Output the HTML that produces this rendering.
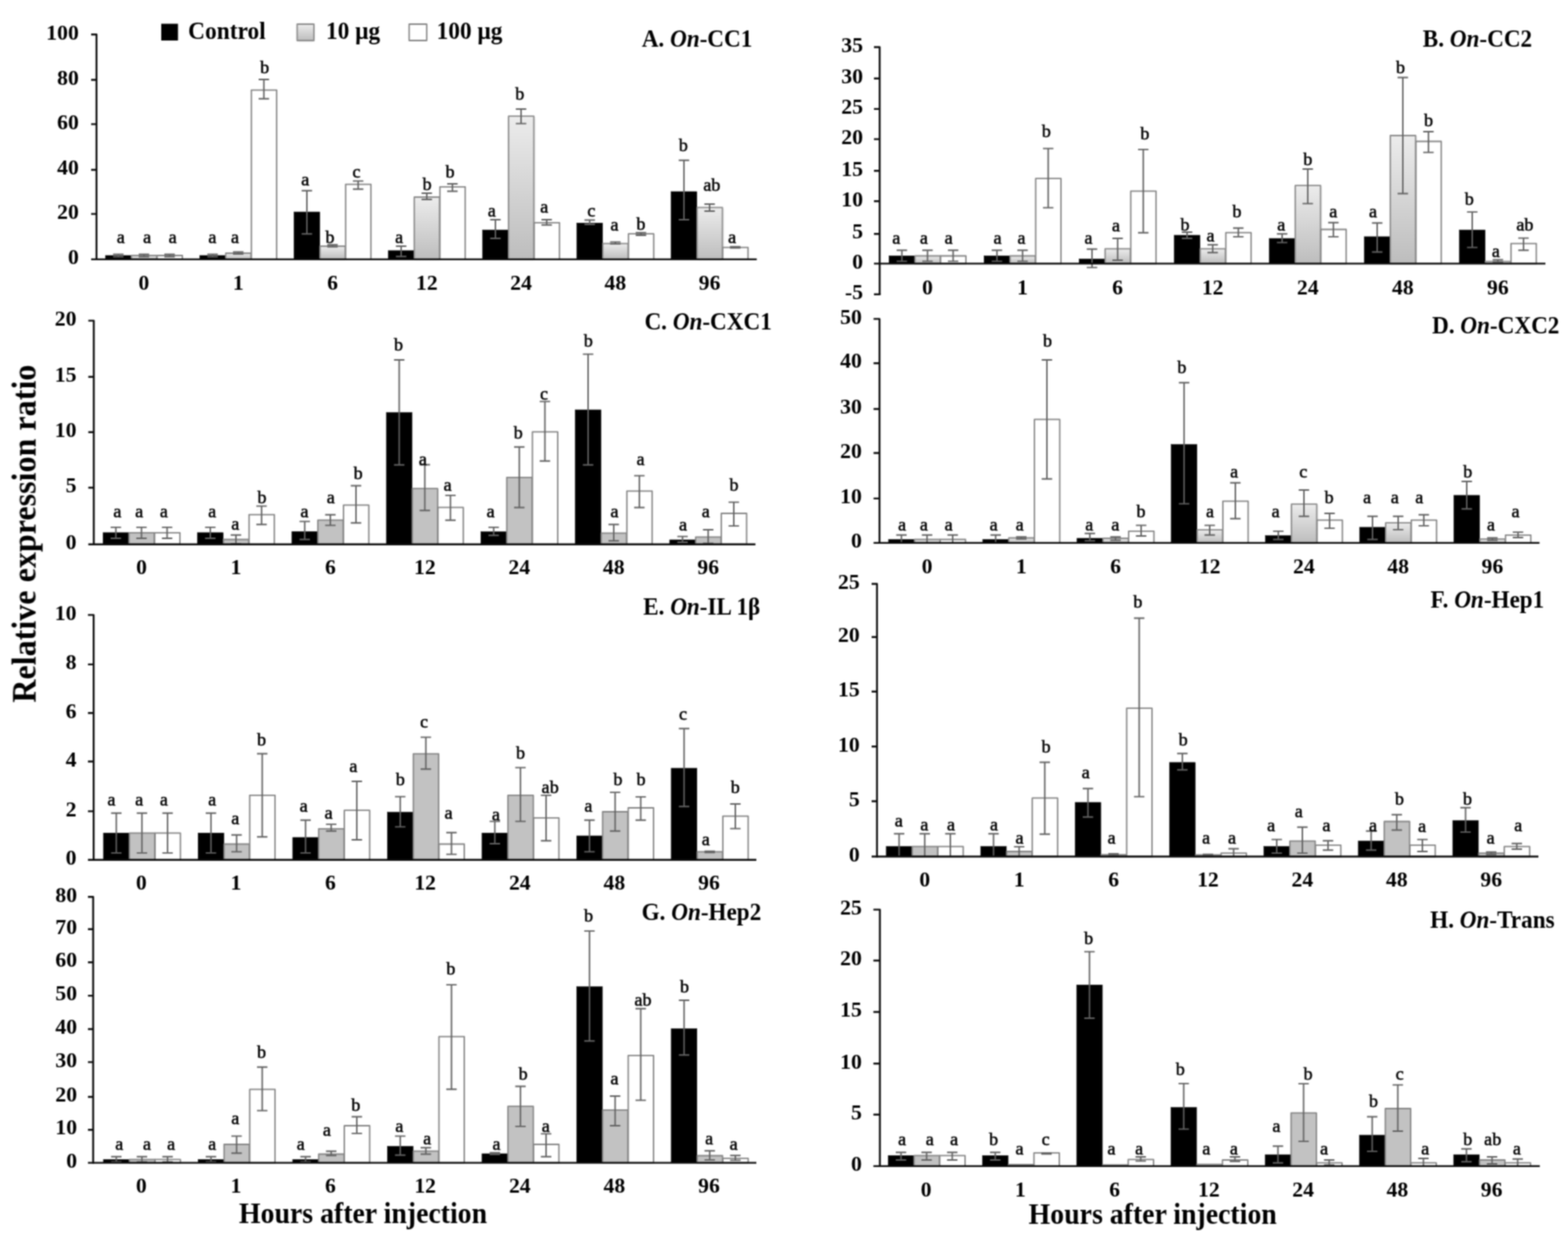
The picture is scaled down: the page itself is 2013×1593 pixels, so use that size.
<!DOCTYPE html>
<html lang="en"><head><meta charset="utf-8"><title>Relative expression ratio</title>
<style>
html,body{margin:0;padding:0;background:#fff;}
body{width:2013px;height:1593px;overflow:hidden;}
svg{display:block;font-family:"Liberation Serif", "DejaVu Serif", serif;}
.tk{font-weight:bold;font-size:28px;text-anchor:end;}
.xl{font-weight:bold;font-size:27.8px;text-anchor:middle;}
.lt{font-size:23.2px;text-anchor:middle;stroke:#000;stroke-width:0.6px;}
.tt{font-weight:bold;font-size:29.5px;}
.ax{stroke:#0a0a0a;fill:none;stroke-linecap:butt;stroke-linejoin:round;}
.eb{stroke:#626262;stroke-width:1.9;fill:none;}
.bk{fill:#000;stroke:#000;stroke-width:0.6;}
.gf{fill:#c2c2c2;stroke:#858585;stroke-width:1.8;stroke-linejoin:round;}
.gg{fill:url(#gg);stroke:#8c8c8c;stroke-width:1.8;stroke-linejoin:round;}
.wh{fill:#fff;stroke:#858585;stroke-width:1.8;stroke-linejoin:round;}
</style></head><body>
<svg width="2013" height="1593" viewBox="0 0 2013 1593" role="img" aria-label="Relative expression ratio bar charts">
<defs><linearGradient id="gg" x1="0" y1="0" x2="0" y2="1" gradientUnits="objectBoundingBox"><stop offset="0" stop-color="#ececec"/><stop offset="1" stop-color="#bdbdbd"/></linearGradient>
<filter id="sh" x="-30%" y="-10%" width="160%" height="120%"><feGaussianBlur stdDeviation="1.6"/></filter>
<filter id="soft" filterUnits="userSpaceOnUse" x="0" y="0" width="2013" height="1593" color-interpolation-filters="sRGB"><feConvolveMatrix order="5" kernelMatrix="0.00087 0.00695 0.01388 0.00695 0.00087 0.00695 0.05540 0.11068 0.05540 0.00695 0.01388 0.11068 0.22111 0.11068 0.01388 0.00695 0.05540 0.11068 0.05540 0.00695 0.00087 0.00695 0.01388 0.00695 0.00087" edgeMode="duplicate" preserveAlpha="false"/></filter>
</defs>
<rect width="2013" height="1593" fill="#fff"/>
<g id="fig" filter="url(#soft)">
<g id="panel-A">
<rect class="bk" x="135.46" y="328" width="32.9" height="4.9"/>
<rect x="168.86" y="329" width="32.9" height="3.9" fill="#000" opacity="0.22" filter="url(#sh)"/>
<rect class="gg" x="168.76" y="328" width="32.5" height="4.9"/>
<rect class="wh" x="201.66" y="328" width="32.5" height="4.9"/>
<rect class="bk" x="256.49" y="328" width="32.9" height="4.9"/>
<rect x="289.89" y="326" width="32.9" height="6.9" fill="#000" opacity="0.22" filter="url(#sh)"/>
<rect class="gg" x="289.79" y="325" width="32.5" height="7.9"/>
<rect class="wh" x="322.69" y="115.6" width="32.5" height="217.3"/>
<rect class="bk" x="377.52" y="272.1" width="32.9" height="60.8"/>
<rect x="410.92" y="317" width="32.9" height="15.9" fill="#000" opacity="0.22" filter="url(#sh)"/>
<rect class="gg" x="410.82" y="316" width="32.5" height="16.9"/>
<rect class="wh" x="443.72" y="236.6" width="32.5" height="96.3"/>
<rect class="bk" x="498.55" y="321.8" width="32.9" height="11.1"/>
<rect x="531.95" y="254" width="32.9" height="78.9" fill="#000" opacity="0.22" filter="url(#sh)"/>
<rect class="gg" x="531.85" y="253" width="32.5" height="79.9"/>
<rect class="wh" x="564.75" y="239.8" width="32.5" height="93.1"/>
<rect class="bk" x="619.58" y="295.2" width="32.9" height="37.7"/>
<rect x="652.98" y="150.2" width="32.9" height="182.7" fill="#000" opacity="0.22" filter="url(#sh)"/>
<rect class="gg" x="652.88" y="149.2" width="32.5" height="183.7"/>
<rect class="wh" x="685.78" y="285.8" width="32.5" height="47.1"/>
<rect class="bk" x="740.61" y="286.3" width="32.9" height="46.6"/>
<rect x="774.01" y="313.6" width="32.9" height="19.3" fill="#000" opacity="0.22" filter="url(#sh)"/>
<rect class="gg" x="773.91" y="312.6" width="32.5" height="20.3"/>
<rect class="wh" x="806.81" y="300.2" width="32.5" height="32.7"/>
<rect class="bk" x="861.64" y="246" width="32.9" height="86.9"/>
<rect x="895.04" y="267.4" width="32.9" height="65.5" fill="#000" opacity="0.22" filter="url(#sh)"/>
<rect class="gg" x="894.94" y="266.4" width="32.5" height="66.5"/>
<rect class="wh" x="927.84" y="317.6" width="32.5" height="15.3"/>
<path class="eb" d="M145.21 326.5H158.61M151.91 326.5V329.5M145.21 329.5H158.61"/>
<path class="eb" d="M178.11 326.5H191.51M184.81 326.5V329.5M178.11 329.5H191.51"/>
<path class="eb" d="M211.01 326.5H224.41M217.71 326.5V329.5M211.01 329.5H224.41"/>
<path class="eb" d="M266.24 326.5H279.64M272.94 326.5V329.5M266.24 329.5H279.64"/>
<path class="eb" d="M299.14 323.5H312.54M305.84 323.5V326M299.14 326H312.54"/>
<path class="eb" d="M332.04 102H345.44M338.74 102V126.8M332.04 126.8H345.44"/>
<path class="eb" d="M387.27 244.8H400.67M393.97 244.8V300.2M387.27 300.2H400.67"/>
<path class="eb" d="M420.17 314.3H433.57M426.87 314.3V316.8M420.17 316.8H433.57"/>
<path class="eb" d="M453.07 232.4H466.47M459.77 232.4V242.8M453.07 242.8H466.47"/>
<path class="eb" d="M508.3 316H521.7M515 316V329.2M508.3 329.2H521.7"/>
<path class="eb" d="M541.2 248H554.6M547.9 248V256M541.2 256H554.6"/>
<path class="eb" d="M574.1 236H587.5M580.8 236V245.5M574.1 245.5H587.5"/>
<path class="eb" d="M629.33 282H642.73M636.03 282V306M629.33 306H642.73"/>
<path class="eb" d="M662.23 140H675.63M668.93 140V158.6M662.23 158.6H675.63"/>
<path class="eb" d="M695.13 282H708.53M701.83 282V288.7M695.13 288.7H708.53"/>
<path class="eb" d="M750.36 282.5H763.76M757.06 282.5V288M750.36 288H763.76"/>
<path class="eb" d="M783.26 310.6H796.66M789.96 310.6V313.1M783.26 313.1H796.66"/>
<path class="eb" d="M816.16 298.7H829.56M822.86 298.7V302M816.16 302H829.56"/>
<path class="eb" d="M871.39 205.8H884.79M878.09 205.8V282M871.39 282H884.79"/>
<path class="eb" d="M904.29 262H917.69M910.99 262V271M904.29 271H917.69"/>
<path class="eb" d="M937.19 316.8H950.59M943.89 316.8V318.4M937.19 318.4H950.59"/>
<g stroke-width="2.4">
<path class="ax" d="M117 44.3H123.9V334.1"/>
<path class="ax" d="M117 332.9H971.5"/>
<path class="ax" d="M117 274.6H123.9M117 218H123.9M117 159.4H123.9M117 102.5H123.9"/>
</g>
<text class="tk" x="101.3" y="339.1">0</text>
<text class="tk" x="101.3" y="280.8">20</text>
<text class="tk" x="101.3" y="224.2">40</text>
<text class="tk" x="101.3" y="165.6">60</text>
<text class="tk" x="101.3" y="108.7">80</text>
<text class="tk" x="101.3" y="50.5">100</text>
<text class="xl" x="184.81" y="371.5">0</text>
<text class="xl" x="305.84" y="371.5">1</text>
<text class="xl" x="426.87" y="371.5">6</text>
<text class="xl" x="547.9" y="371.5">12</text>
<text class="xl" x="668.93" y="371.5">24</text>
<text class="xl" x="789.96" y="371.5">48</text>
<text class="xl" x="910.99" y="371.5">96</text>
<text class="lt" x="155.1" y="312.3">a</text>
<text class="lt" x="189" y="312.3">a</text>
<text class="lt" x="221.7" y="312.3">a</text>
<text class="lt" x="272.6" y="312.3">a</text>
<text class="lt" x="301.7" y="312.3">a</text>
<text class="lt" x="339.7" y="94.4">b</text>
<text class="lt" x="391.9" y="237.7">a</text>
<text class="lt" x="423.6" y="312.3">b</text>
<text class="lt" x="457.7" y="227.8">c</text>
<text class="lt" x="512.3" y="312.3">a</text>
<text class="lt" x="548.3" y="243.9">b</text>
<text class="lt" x="577.7" y="227.8">b</text>
<text class="lt" x="631.3" y="278.2">a</text>
<text class="lt" x="667.3" y="127.7">b</text>
<text class="lt" x="698.6" y="273.3">a</text>
<text class="lt" x="759.2" y="278.2">c</text>
<text class="lt" x="789" y="295.6">a</text>
<text class="lt" x="822.8" y="294.9">b</text>
<text class="lt" x="877.4" y="193.8">b</text>
<text class="lt" x="914" y="244.7">ab</text>
<text class="lt" x="940" y="311.5">a</text>
<text class="tt" transform="translate(823.9 59.9) scale(1.008 1.085)">A. <tspan font-style="italic">On</tspan>-CC1</text>
</g>
<g id="panel-B">
<rect class="bk" x="1141.37" y="328.5" width="32.9" height="9.9"/>
<rect x="1174.77" y="329.5" width="32.9" height="8.9" fill="#000" opacity="0.22" filter="url(#sh)"/>
<rect class="gg" x="1174.67" y="328.5" width="32.5" height="9.9"/>
<rect class="wh" x="1207.57" y="328.5" width="32.5" height="9.9"/>
<rect class="bk" x="1263.41" y="328.5" width="32.9" height="9.9"/>
<rect x="1296.81" y="329.5" width="32.9" height="8.9" fill="#000" opacity="0.22" filter="url(#sh)"/>
<rect class="gg" x="1296.71" y="328.5" width="32.5" height="9.9"/>
<rect class="wh" x="1329.61" y="229.1" width="32.5" height="109.3"/>
<rect class="bk" x="1385.46" y="332.5" width="32.9" height="5.9"/>
<rect x="1418.86" y="320.3" width="32.9" height="18.1" fill="#000" opacity="0.22" filter="url(#sh)"/>
<rect class="gg" x="1418.76" y="319.3" width="32.5" height="19.1"/>
<rect class="wh" x="1451.66" y="245.3" width="32.5" height="93.1"/>
<rect class="bk" x="1507.5" y="302" width="32.9" height="36.4"/>
<rect x="1540.9" y="320.3" width="32.9" height="18.1" fill="#000" opacity="0.22" filter="url(#sh)"/>
<rect class="gg" x="1540.8" y="319.3" width="32.5" height="19.1"/>
<rect class="wh" x="1573.7" y="298.7" width="32.5" height="39.7"/>
<rect class="bk" x="1629.54" y="306.1" width="32.9" height="32.3"/>
<rect x="1662.94" y="239.1" width="32.9" height="99.3" fill="#000" opacity="0.22" filter="url(#sh)"/>
<rect class="gg" x="1662.84" y="238.1" width="32.5" height="100.3"/>
<rect class="wh" x="1695.74" y="294.5" width="32.5" height="43.9"/>
<rect class="bk" x="1751.59" y="303.9" width="32.9" height="34.5"/>
<rect x="1784.99" y="175" width="32.9" height="163.4" fill="#000" opacity="0.22" filter="url(#sh)"/>
<rect class="gg" x="1784.89" y="174" width="32.5" height="164.4"/>
<rect class="wh" x="1817.79" y="181.5" width="32.5" height="156.9"/>
<rect class="bk" x="1873.63" y="295.2" width="32.9" height="43.2"/>
<rect x="1907.03" y="336.6" width="32.9" height="1.8" fill="#000" opacity="0.22" filter="url(#sh)"/>
<rect class="gg" x="1906.93" y="335.6" width="32.5" height="2.8"/>
<rect class="wh" x="1939.83" y="312.6" width="32.5" height="25.8"/>
<path class="eb" d="M1151.12 321.3H1164.52M1157.82 321.3V335.4M1151.12 335.4H1164.52"/>
<path class="eb" d="M1184.02 321.3H1197.42M1190.72 321.3V335.4M1184.02 335.4H1197.42"/>
<path class="eb" d="M1216.92 321.3H1230.32M1223.62 321.3V335.4M1216.92 335.4H1230.32"/>
<path class="eb" d="M1273.16 321.3H1286.56M1279.86 321.3V335.4M1273.16 335.4H1286.56"/>
<path class="eb" d="M1306.06 321.3H1319.46M1312.76 321.3V335.4M1306.06 335.4H1319.46"/>
<path class="eb" d="M1338.96 190.6H1352.36M1345.66 190.6V266.6M1338.96 266.6H1352.36"/>
<path class="eb" d="M1395.21 319.8H1408.61M1401.91 319.8V343.4M1395.21 343.4H1408.61"/>
<path class="eb" d="M1428.11 306H1441.51M1434.81 306V334M1428.11 334H1441.51"/>
<path class="eb" d="M1461.01 191.9H1474.41M1467.71 191.9V298.7M1461.01 298.7H1474.41"/>
<path class="eb" d="M1517.25 298H1530.65M1523.95 298V306M1517.25 306H1530.65"/>
<path class="eb" d="M1550.15 314.3H1563.55M1556.85 314.3V324.3M1550.15 324.3H1563.55"/>
<path class="eb" d="M1583.05 292.7H1596.45M1589.75 292.7V303.9M1583.05 303.9H1596.45"/>
<path class="eb" d="M1639.29 300.2H1652.69M1645.99 300.2V311.4M1639.29 311.4H1652.69"/>
<path class="eb" d="M1672.19 217H1685.59M1678.89 217V261.4M1672.19 261.4H1685.59"/>
<path class="eb" d="M1705.09 285.8H1718.49M1711.79 285.8V303.9M1705.09 303.9H1718.49"/>
<path class="eb" d="M1761.34 286.3H1774.74M1768.04 286.3V323.5M1761.34 323.5H1774.74"/>
<path class="eb" d="M1794.24 99.5H1807.64M1800.94 99.5V248.5M1794.24 248.5H1807.64"/>
<path class="eb" d="M1827.14 169H1840.54M1833.84 169V195.6M1827.14 195.6H1840.54"/>
<path class="eb" d="M1883.38 272.1H1896.78M1890.08 272.1V317.6M1883.38 317.6H1896.78"/>
<path class="eb" d="M1916.28 333.5H1929.68M1922.98 333.5V336.5M1916.28 336.5H1929.68"/>
<path class="eb" d="M1949.18 305.6H1962.58M1955.88 305.6V321.3M1949.18 321.3H1962.58"/>
<g stroke-width="2.4">
<path class="ax" d="M1122 60.5H1129.3V377.8"/>
<path class="ax" d="M1122 377.8H1130.5"/>
<path class="ax" d="M1122 338.4H1984"/>
<path class="ax" d="M1122 300.2H1129.3M1122 258.3H1129.3M1122 219.3H1129.3M1122 178.6H1129.3M1122 139.9H1129.3M1122 100.8H1129.3"/>
</g>
<text class="tk" x="1108" y="384">-5</text>
<text class="tk" x="1108" y="344.6">0</text>
<text class="tk" x="1108" y="306.4">5</text>
<text class="tk" x="1108" y="264.5">10</text>
<text class="tk" x="1108" y="225.5">15</text>
<text class="tk" x="1108" y="184.8">20</text>
<text class="tk" x="1108" y="146.1">25</text>
<text class="tk" x="1108" y="107">30</text>
<text class="tk" x="1108" y="66.7">35</text>
<text class="xl" x="1190.72" y="377.7">0</text>
<text class="xl" x="1312.76" y="377.7">1</text>
<text class="xl" x="1434.81" y="377.7">6</text>
<text class="xl" x="1556.85" y="377.7">12</text>
<text class="xl" x="1678.89" y="377.7">24</text>
<text class="xl" x="1800.94" y="377.7">48</text>
<text class="xl" x="1922.98" y="377.7">96</text>
<text class="lt" x="1150.7" y="313">a</text>
<text class="lt" x="1186.2" y="313">a</text>
<text class="lt" x="1218" y="313">a</text>
<text class="lt" x="1280.6" y="313">a</text>
<text class="lt" x="1311.4" y="313">a</text>
<text class="lt" x="1343.2" y="175.6">b</text>
<text class="lt" x="1397.3" y="313">a</text>
<text class="lt" x="1432.6" y="296.6">a</text>
<text class="lt" x="1469.8" y="178.9">b</text>
<text class="lt" x="1521.2" y="296.1">b</text>
<text class="lt" x="1554.2" y="309.8">a</text>
<text class="lt" x="1588" y="279.2">b</text>
<text class="lt" x="1645" y="296.1">a</text>
<text class="lt" x="1679" y="211.7">b</text>
<text class="lt" x="1711.7" y="279.2">a</text>
<text class="lt" x="1762.6" y="279.2">a</text>
<text class="lt" x="1798" y="94.4">b</text>
<text class="lt" x="1834" y="162.4">b</text>
<text class="lt" x="1886.3" y="262.6">b</text>
<text class="lt" x="1920.3" y="330.1">a</text>
<text class="lt" x="1957.6" y="296.1">ab</text>
<text class="tt" transform="translate(1826.6 59.9) scale(1.008 1.085)">B. <tspan font-style="italic">On</tspan>-CC2</text>
</g>
<g id="panel-C">
<rect class="bk" x="132.28" y="683.8" width="32.9" height="14.9"/>
<rect class="gf" x="165.58" y="683.8" width="32.5" height="14.9"/>
<rect class="wh" x="198.48" y="683.8" width="32.5" height="14.9"/>
<rect class="bk" x="253.54" y="683.8" width="32.9" height="14.9"/>
<rect class="gf" x="286.84" y="692.5" width="32.5" height="6.2"/>
<rect class="wh" x="319.74" y="660.7" width="32.5" height="38"/>
<rect class="bk" x="374.79" y="682.3" width="32.9" height="16.4"/>
<rect class="gf" x="408.09" y="667.7" width="32.5" height="31"/>
<rect class="wh" x="440.99" y="648.3" width="32.5" height="50.4"/>
<rect class="bk" x="496.05" y="529.6" width="32.9" height="169.1"/>
<rect class="gf" x="529.35" y="627.2" width="32.5" height="71.5"/>
<rect class="wh" x="562.25" y="651.3" width="32.5" height="47.4"/>
<rect class="bk" x="617.31" y="682.6" width="32.9" height="16.1"/>
<rect class="gf" x="650.61" y="612.8" width="32.5" height="85.9"/>
<rect class="wh" x="683.51" y="554.4" width="32.5" height="144.3"/>
<rect class="bk" x="738.56" y="526.1" width="32.9" height="172.6"/>
<rect class="gf" x="771.86" y="684.3" width="32.5" height="14.4"/>
<rect class="wh" x="804.76" y="630.4" width="32.5" height="68.3"/>
<rect class="bk" x="859.82" y="693" width="32.9" height="5.7"/>
<rect class="gf" x="893.12" y="689.3" width="32.5" height="9.4"/>
<rect class="wh" x="926.02" y="659" width="32.5" height="39.7"/>
<path class="eb" d="M142.03 676.9H155.43M148.73 676.9V691M142.03 691H155.43"/>
<path class="eb" d="M174.93 676.9H188.33M181.63 676.9V691M174.93 691H188.33"/>
<path class="eb" d="M207.83 676.9H221.23M214.53 676.9V691M207.83 691H221.23"/>
<path class="eb" d="M263.29 676.9H276.69M269.99 676.9V691M263.29 691H276.69"/>
<path class="eb" d="M296.19 686.8H309.59M302.89 686.8V698M296.19 698H309.59"/>
<path class="eb" d="M329.09 649.6H342.49M335.79 649.6V673.2M329.09 673.2H342.49"/>
<path class="eb" d="M384.54 669.4H397.94M391.24 669.4V692.5M384.54 692.5H397.94"/>
<path class="eb" d="M417.44 660.7H430.84M424.14 660.7V674.4M417.44 674.4H430.84"/>
<path class="eb" d="M450.34 623.5H463.74M457.04 623.5V671.2M450.34 671.2H463.74"/>
<path class="eb" d="M505.8 462H519.2M512.5 462V596.7M505.8 596.7H519.2"/>
<path class="eb" d="M538.7 596.5H552.1M545.4 596.5V655.3M538.7 655.3H552.1"/>
<path class="eb" d="M571.6 635.9H585M578.3 635.9V667.7M571.6 667.7H585"/>
<path class="eb" d="M627.06 676.9H640.46M633.76 676.9V687.3M627.06 687.3H640.46"/>
<path class="eb" d="M659.96 573.8H673.36M666.66 573.8V651.5M659.96 651.5H673.36"/>
<path class="eb" d="M692.86 515.4H706.26M699.56 515.4V591.7M692.86 591.7H706.26"/>
<path class="eb" d="M748.31 454.6H761.71M755.01 454.6V596.7M748.31 596.7H761.71"/>
<path class="eb" d="M781.21 673.2H794.61M787.91 673.2V694.3M781.21 694.3H794.61"/>
<path class="eb" d="M814.11 610.6H827.51M820.81 610.6V651.5M814.11 651.5H827.51"/>
<path class="eb" d="M869.57 688.6H882.97M876.27 688.6V696M869.57 696H882.97"/>
<path class="eb" d="M902.47 680H915.87M909.17 680V697.5M902.47 697.5H915.87"/>
<path class="eb" d="M935.37 644.6H948.77M942.07 644.6V675.1M935.37 675.1H948.77"/>
<g stroke-width="2.4">
<path class="ax" d="M113.4 411.6H120.4V699.9"/>
<path class="ax" d="M113.4 698.7H969.8"/>
<path class="ax" d="M113.4 626H120.4M113.4 554.7H120.4M113.4 483.7H120.4"/>
</g>
<text class="tk" x="98.3" y="704.9">0</text>
<text class="tk" x="98.3" y="632.2">5</text>
<text class="tk" x="98.3" y="560.9">10</text>
<text class="tk" x="98.3" y="489.9">15</text>
<text class="tk" x="98.3" y="417.8">20</text>
<text class="xl" x="181.63" y="736.5">0</text>
<text class="xl" x="302.89" y="736.5">1</text>
<text class="xl" x="424.14" y="736.5">6</text>
<text class="xl" x="545.4" y="736.5">12</text>
<text class="xl" x="666.66" y="736.5">24</text>
<text class="xl" x="787.91" y="736.5">48</text>
<text class="xl" x="909.17" y="736.5">96</text>
<text class="lt" x="150.7" y="663.6">a</text>
<text class="lt" x="178.7" y="663.6">a</text>
<text class="lt" x="210.3" y="663.6">a</text>
<text class="lt" x="272.4" y="663.6">a</text>
<text class="lt" x="302.2" y="680.4">a</text>
<text class="lt" x="336.2" y="646.2">b</text>
<text class="lt" x="390.9" y="663.6">a</text>
<text class="lt" x="424.6" y="646.2">a</text>
<text class="lt" x="459.9" y="614.7">b</text>
<text class="lt" x="511.6" y="450">b</text>
<text class="lt" x="543" y="597.1">a</text>
<text class="lt" x="574.6" y="630.1">a</text>
<text class="lt" x="630" y="663.6">a</text>
<text class="lt" x="665.3" y="563">b</text>
<text class="lt" x="698.3" y="513.4">c</text>
<text class="lt" x="755.2" y="444.5">b</text>
<text class="lt" x="789" y="663.6">a</text>
<text class="lt" x="822.3" y="597.1">a</text>
<text class="lt" x="876.9" y="680.5">a</text>
<text class="lt" x="906.2" y="663.6">a</text>
<text class="lt" x="942.3" y="630.1">b</text>
<text class="tt" transform="translate(827.4 422.5) scale(1.008 1.085)">C. <tspan font-style="italic">On</tspan>-CXC1</text>
</g>
<g id="panel-D">
<rect class="bk" x="1140.83" y="692.5" width="32.9" height="4.4"/>
<rect x="1174.23" y="693.5" width="32.9" height="3.4" fill="#000" opacity="0.22" filter="url(#sh)"/>
<rect class="gg" x="1174.13" y="692.5" width="32.5" height="4.4"/>
<rect class="wh" x="1207.03" y="692.5" width="32.5" height="4.4"/>
<rect class="bk" x="1261.79" y="692.5" width="32.9" height="4.4"/>
<rect x="1295.19" y="691.5" width="32.9" height="5.4" fill="#000" opacity="0.22" filter="url(#sh)"/>
<rect class="gg" x="1295.09" y="690.5" width="32.5" height="6.4"/>
<rect class="wh" x="1327.99" y="538.3" width="32.5" height="158.6"/>
<rect class="bk" x="1382.74" y="691" width="32.9" height="5.9"/>
<rect x="1416.14" y="692" width="32.9" height="4.9" fill="#000" opacity="0.22" filter="url(#sh)"/>
<rect class="gg" x="1416.04" y="691" width="32.5" height="5.9"/>
<rect class="wh" x="1448.94" y="681.9" width="32.5" height="15"/>
<rect class="bk" x="1503.7" y="570.6" width="32.9" height="126.3"/>
<rect x="1537.1" y="681.1" width="32.9" height="15.8" fill="#000" opacity="0.22" filter="url(#sh)"/>
<rect class="gg" x="1537" y="680.1" width="32.5" height="16.8"/>
<rect class="wh" x="1569.9" y="643.4" width="32.5" height="53.5"/>
<rect class="bk" x="1624.66" y="687.6" width="32.9" height="9.3"/>
<rect x="1658.06" y="648.1" width="32.9" height="48.8" fill="#000" opacity="0.22" filter="url(#sh)"/>
<rect class="gg" x="1657.96" y="647.1" width="32.5" height="49.8"/>
<rect class="wh" x="1690.86" y="667.7" width="32.5" height="29.2"/>
<rect class="bk" x="1745.61" y="676.9" width="32.9" height="20"/>
<rect x="1779.01" y="672.2" width="32.9" height="24.7" fill="#000" opacity="0.22" filter="url(#sh)"/>
<rect class="gg" x="1778.91" y="671.2" width="32.5" height="25.7"/>
<rect class="wh" x="1811.81" y="667.7" width="32.5" height="29.2"/>
<rect class="bk" x="1866.57" y="635.9" width="32.9" height="61"/>
<rect x="1899.97" y="692.8" width="32.9" height="4.1" fill="#000" opacity="0.22" filter="url(#sh)"/>
<rect class="gg" x="1899.87" y="691.8" width="32.5" height="5.1"/>
<rect class="wh" x="1932.77" y="686.8" width="32.5" height="10.1"/>
<path class="eb" d="M1150.58 686.8H1163.98M1157.28 686.8V696.9"/>
<path class="eb" d="M1183.48 686.8H1196.88M1190.18 686.8V696.9"/>
<path class="eb" d="M1216.38 686.8H1229.78M1223.08 686.8V696.9"/>
<path class="eb" d="M1271.54 686.8H1284.94M1278.24 686.8V696.9"/>
<path class="eb" d="M1304.44 689.3H1317.84M1311.14 689.3V691.8M1304.44 691.8H1317.84"/>
<path class="eb" d="M1337.34 462H1350.74M1344.04 462V614.8M1337.34 614.8H1350.74"/>
<path class="eb" d="M1392.49 684.8H1405.89M1399.19 684.8V694.3M1392.49 694.3H1405.89"/>
<path class="eb" d="M1425.39 689.3H1438.79M1432.09 689.3V693.5M1425.39 693.5H1438.79"/>
<path class="eb" d="M1458.29 674.4H1471.69M1464.99 674.4V688M1458.29 688H1471.69"/>
<path class="eb" d="M1513.45 491.3H1526.85M1520.15 491.3V646.6M1513.45 646.6H1526.85"/>
<path class="eb" d="M1546.35 674.4H1559.75M1553.05 674.4V686.8M1546.35 686.8H1559.75"/>
<path class="eb" d="M1579.25 619.8H1592.65M1585.95 619.8V665.7M1579.25 665.7H1592.65"/>
<path class="eb" d="M1634.41 681.9H1647.81M1641.11 681.9V692.5M1634.41 692.5H1647.81"/>
<path class="eb" d="M1667.31 629H1680.71M1674.01 629V662.7M1667.31 662.7H1680.71"/>
<path class="eb" d="M1700.21 659H1713.61M1706.91 659V678.1M1700.21 678.1H1713.61"/>
<path class="eb" d="M1755.36 662.7H1768.76M1762.06 662.7V692.5M1755.36 692.5H1768.76"/>
<path class="eb" d="M1788.26 662.7H1801.66M1794.96 662.7V679.9M1788.26 679.9H1801.66"/>
<path class="eb" d="M1821.16 660.7H1834.56M1827.86 660.7V674.9M1821.16 674.9H1834.56"/>
<path class="eb" d="M1876.32 618H1889.72M1883.02 618V653.3M1876.32 653.3H1889.72"/>
<path class="eb" d="M1909.22 690.5H1922.62M1915.92 690.5V693.5M1909.22 693.5H1922.62"/>
<path class="eb" d="M1942.12 683.1H1955.52M1948.82 683.1V690M1942.12 690H1955.52"/>
<g stroke-width="2.4">
<path class="ax" d="M1121.5 409.4H1129.1V698.1"/>
<path class="ax" d="M1121.5 696.9H1976.4"/>
<path class="ax" d="M1121.5 639.9H1129.1M1121.5 581.5H1129.1M1121.5 525H1129.1M1121.5 466.2H1129.1"/>
</g>
<text class="tk" x="1106.4" y="703.1">0</text>
<text class="tk" x="1106.4" y="646.1">10</text>
<text class="tk" x="1106.4" y="587.7">20</text>
<text class="tk" x="1106.4" y="531.2">30</text>
<text class="tk" x="1106.4" y="472.4">40</text>
<text class="tk" x="1106.4" y="415.6">50</text>
<text class="xl" x="1190.18" y="736">0</text>
<text class="xl" x="1311.14" y="736">1</text>
<text class="xl" x="1432.09" y="736">6</text>
<text class="xl" x="1553.05" y="736">12</text>
<text class="xl" x="1674.01" y="736">24</text>
<text class="xl" x="1794.96" y="736">48</text>
<text class="xl" x="1915.92" y="736">96</text>
<text class="lt" x="1158.1" y="680.5">a</text>
<text class="lt" x="1186.2" y="680.5">a</text>
<text class="lt" x="1218" y="680.5">a</text>
<text class="lt" x="1275.6" y="680.5">a</text>
<text class="lt" x="1309.1" y="680.5">a</text>
<text class="lt" x="1344.9" y="444.5">b</text>
<text class="lt" x="1398.5" y="680.5">a</text>
<text class="lt" x="1431.8" y="680.5">a</text>
<text class="lt" x="1464.9" y="663.6">b</text>
<text class="lt" x="1517.2" y="478.6">b</text>
<text class="lt" x="1553.5" y="663.6">a</text>
<text class="lt" x="1584.3" y="612.7">a</text>
<text class="lt" x="1637.7" y="663.6">a</text>
<text class="lt" x="1673.2" y="612.7">c</text>
<text class="lt" x="1706.2" y="646.2">b</text>
<text class="lt" x="1755.2" y="646.2">a</text>
<text class="lt" x="1790.7" y="646.2">a</text>
<text class="lt" x="1822.2" y="646.2">a</text>
<text class="lt" x="1884.3" y="612.7">b</text>
<text class="lt" x="1914.1" y="680.5">a</text>
<text class="lt" x="1945.7" y="663.6">a</text>
<text class="tt" transform="translate(1838.5 428.2) scale(1.008 1.085)">D. <tspan font-style="italic">On</tspan>-CXC2</text>
</g>
<g id="panel-E">
<rect class="bk" x="132.89" y="1069.3" width="32.9" height="34.5"/>
<rect class="gf" x="166.19" y="1069.3" width="32.5" height="34.5"/>
<rect class="wh" x="199.09" y="1069.3" width="32.5" height="34.5"/>
<rect class="bk" x="254.38" y="1069.3" width="32.9" height="34.5"/>
<rect class="gf" x="287.68" y="1083.5" width="32.5" height="20.3"/>
<rect class="wh" x="320.58" y="1020.9" width="32.5" height="82.9"/>
<rect class="bk" x="375.86" y="1075" width="32.9" height="28.8"/>
<rect class="gf" x="409.16" y="1063.8" width="32.5" height="40"/>
<rect class="wh" x="442.06" y="1040.2" width="32.5" height="63.6"/>
<rect class="bk" x="497.35" y="1042.7" width="32.9" height="61.1"/>
<rect class="gf" x="530.65" y="967.7" width="32.5" height="136.1"/>
<rect class="wh" x="563.55" y="1083.5" width="32.5" height="20.3"/>
<rect class="bk" x="618.84" y="1069.3" width="32.9" height="34.5"/>
<rect class="gf" x="652.14" y="1020.9" width="32.5" height="82.9"/>
<rect class="wh" x="685.04" y="1049.9" width="32.5" height="53.9"/>
<rect class="bk" x="740.32" y="1073" width="32.9" height="30.8"/>
<rect class="gf" x="773.62" y="1042" width="32.5" height="61.8"/>
<rect class="wh" x="806.52" y="1037" width="32.5" height="66.8"/>
<rect class="bk" x="861.81" y="986.1" width="32.9" height="117.7"/>
<rect class="gf" x="895.11" y="1093.4" width="32.5" height="10.4"/>
<rect class="wh" x="928.01" y="1047.7" width="32.5" height="56.1"/>
<path class="eb" d="M142.64 1043.7H156.04M149.34 1043.7V1094.9M142.64 1094.9H156.04"/>
<path class="eb" d="M175.54 1043.7H188.94M182.24 1043.7V1094.9M175.54 1094.9H188.94"/>
<path class="eb" d="M208.44 1043.7H221.84M215.14 1043.7V1094.9M208.44 1094.9H221.84"/>
<path class="eb" d="M264.13 1043.7H277.53M270.83 1043.7V1094.9M264.13 1094.9H277.53"/>
<path class="eb" d="M297.03 1071.8H310.43M303.73 1071.8V1093.4M297.03 1093.4H310.43"/>
<path class="eb" d="M329.93 967.5H343.33M336.63 967.5V1074.3M329.93 1074.3H343.33"/>
<path class="eb" d="M385.61 1052.7H399.01M392.31 1052.7V1094.9M385.61 1094.9H399.01"/>
<path class="eb" d="M418.51 1058.1H431.91M425.21 1058.1V1066.8M418.51 1066.8H431.91"/>
<path class="eb" d="M451.41 1003H464.81M458.11 1003V1078M451.41 1078H464.81"/>
<path class="eb" d="M507.1 1022.6H520.5M513.8 1022.6V1061.4M507.1 1061.4H520.5"/>
<path class="eb" d="M540 946.4H553.4M546.7 946.4V987.3M540 987.3H553.4"/>
<path class="eb" d="M572.9 1068.8H586.3M579.6 1068.8V1096.6M572.9 1096.6H586.3"/>
<path class="eb" d="M628.59 1054.4H641.99M635.29 1054.4V1083M628.59 1083H641.99"/>
<path class="eb" d="M661.49 985.4H674.89M668.19 985.4V1054.4M661.49 1054.4H674.89"/>
<path class="eb" d="M694.39 1020.9H707.79M701.09 1020.9V1079.2M694.39 1079.2H707.79"/>
<path class="eb" d="M750.07 1052.7H763.47M756.77 1052.7V1093.4M750.07 1093.4H763.47"/>
<path class="eb" d="M782.97 1017.1H796.37M789.67 1017.1V1066.8M782.97 1066.8H796.37"/>
<path class="eb" d="M815.87 1022.9H829.27M822.57 1022.9V1052.7M815.87 1052.7H829.27"/>
<path class="eb" d="M871.56 935.2H884.96M878.26 935.2V1035.3M871.56 1035.3H884.96"/>
<path class="eb" d="M904.46 1092.6H917.86M911.16 1092.6V1094.4M904.46 1094.4H917.86"/>
<path class="eb" d="M937.36 1032H950.76M944.06 1032V1063.6M937.36 1063.6H950.76"/>
<g stroke-width="2.4">
<path class="ax" d="M112.9 789.4H120.2V1105"/>
<path class="ax" d="M112.9 1103.8H971"/>
<path class="ax" d="M112.9 1041.4H120.2M112.9 977.5H120.2M112.9 915.3H120.2M112.9 852.9H120.2"/>
</g>
<text class="tk" x="98.2" y="1110">0</text>
<text class="tk" x="98.2" y="1047.6">2</text>
<text class="tk" x="98.2" y="983.7">4</text>
<text class="tk" x="98.2" y="921.5">6</text>
<text class="tk" x="98.2" y="859.1">8</text>
<text class="tk" x="98.2" y="795.6">10</text>
<text class="xl" x="181.34" y="1142.3">0</text>
<text class="xl" x="302.83" y="1142.3">1</text>
<text class="xl" x="424.31" y="1142.3">6</text>
<text class="xl" x="545.8" y="1142.3">12</text>
<text class="xl" x="667.29" y="1142.3">24</text>
<text class="xl" x="788.77" y="1142.3">48</text>
<text class="xl" x="910.26" y="1142.3">96</text>
<text class="lt" x="143.2" y="1034.4">a</text>
<text class="lt" x="178.7" y="1034.4">a</text>
<text class="lt" x="210.3" y="1034.4">a</text>
<text class="lt" x="272.4" y="1034.4">a</text>
<text class="lt" x="302.2" y="1057.8">a</text>
<text class="lt" x="335.7" y="957.2">b</text>
<text class="lt" x="389.9" y="1041.6">a</text>
<text class="lt" x="421.9" y="1051.1">a</text>
<text class="lt" x="453.7" y="991">a</text>
<text class="lt" x="514" y="1008.4">b</text>
<text class="lt" x="544.3" y="933.6">c</text>
<text class="lt" x="575.9" y="1051.1">a</text>
<text class="lt" x="636.7" y="1053.1">a</text>
<text class="lt" x="668.3" y="974.1">b</text>
<text class="lt" x="706.3" y="1017.5">ab</text>
<text class="lt" x="755.5" y="1041.6">a</text>
<text class="lt" x="793.2" y="1008.4">b</text>
<text class="lt" x="823" y="1008.4">b</text>
<text class="lt" x="876.9" y="923.7">c</text>
<text class="lt" x="906.2" y="1085.4">a</text>
<text class="lt" x="944" y="1017.5">b</text>
<text class="tt" transform="translate(825.7 788.8) scale(1.008 1.085)">E. <tspan font-style="italic">On</tspan>-IL 1β</text>
</g>
<g id="panel-F">
<rect class="bk" x="1137.85" y="1086.6" width="32.9" height="12.9"/>
<rect class="gf" x="1171.15" y="1086.6" width="32.5" height="12.9"/>
<rect class="wh" x="1204.05" y="1086.6" width="32.5" height="12.9"/>
<rect class="bk" x="1259.05" y="1086.6" width="32.9" height="12.9"/>
<rect class="gf" x="1292.35" y="1093" width="32.5" height="6.5"/>
<rect class="wh" x="1325.25" y="1024.4" width="32.5" height="75.1"/>
<rect class="bk" x="1380.25" y="1030" width="32.9" height="69.5"/>
<rect class="gf" x="1413.55" y="1097.2" width="32.5" height="2.3"/>
<rect class="wh" x="1446.45" y="909.1" width="32.5" height="190.4"/>
<rect class="bk" x="1501.45" y="978.8" width="32.9" height="120.7"/>
<rect class="gf" x="1534.75" y="1097.4" width="32.5" height="2.1"/>
<rect class="wh" x="1567.65" y="1095.1" width="32.5" height="4.4"/>
<rect class="bk" x="1622.65" y="1086.6" width="32.9" height="12.9"/>
<rect class="gf" x="1655.95" y="1079.7" width="32.5" height="19.8"/>
<rect class="wh" x="1688.85" y="1084.8" width="32.5" height="14.7"/>
<rect class="bk" x="1743.85" y="1079.7" width="32.9" height="19.8"/>
<rect class="gf" x="1777.15" y="1054.5" width="32.5" height="45"/>
<rect class="wh" x="1810.05" y="1084.8" width="32.5" height="14.7"/>
<rect class="bk" x="1865.05" y="1053.2" width="32.9" height="46.3"/>
<rect class="gf" x="1898.35" y="1095.1" width="32.5" height="4.4"/>
<rect class="wh" x="1931.25" y="1086.6" width="32.5" height="12.9"/>
<path class="eb" d="M1147.6 1070.2H1161M1154.3 1070.2V1099.5"/>
<path class="eb" d="M1180.5 1070.2H1193.9M1187.2 1070.2V1099.5"/>
<path class="eb" d="M1213.4 1070.2H1226.8M1220.1 1070.2V1099.5"/>
<path class="eb" d="M1268.8 1070.2H1282.2M1275.5 1070.2V1099.5"/>
<path class="eb" d="M1301.7 1086.9H1315.1M1308.4 1086.9V1099.5"/>
<path class="eb" d="M1334.6 978.5H1348M1341.3 978.5V1070.7M1334.6 1070.7H1348"/>
<path class="eb" d="M1390 1012.3H1403.4M1396.7 1012.3V1048.8M1390 1048.8H1403.4"/>
<path class="eb" d="M1422.9 1096H1436.3M1429.6 1096V1098.2M1422.9 1098.2H1436.3"/>
<path class="eb" d="M1455.8 793.5H1469.2M1462.5 793.5V1022.6M1455.8 1022.6H1469.2"/>
<path class="eb" d="M1511.2 967.2H1524.6M1517.9 967.2V988.3M1511.2 988.3H1524.6"/>
<path class="eb" d="M1544.1 1096.8H1557.5M1550.8 1096.8V1098M1544.1 1098H1557.5"/>
<path class="eb" d="M1577 1089.5H1590.4M1583.7 1089.5V1099.5"/>
<path class="eb" d="M1632.4 1077.6H1645.8M1639.1 1077.6V1095.1M1632.4 1095.1H1645.8"/>
<path class="eb" d="M1665.3 1061.7H1678.7M1672 1061.7V1095.1M1665.3 1095.1H1678.7"/>
<path class="eb" d="M1698.2 1079.2H1711.6M1704.9 1079.2V1091.3M1698.2 1091.3H1711.6"/>
<path class="eb" d="M1753.6 1066.8H1767M1760.3 1066.8V1091.3M1753.6 1091.3H1767"/>
<path class="eb" d="M1786.5 1045.7H1799.9M1793.2 1045.7V1065.5M1786.5 1065.5H1799.9"/>
<path class="eb" d="M1819.4 1077.6H1832.8M1826.1 1077.6V1093M1819.4 1093H1832.8"/>
<path class="eb" d="M1874.8 1036.7H1888.2M1881.5 1036.7V1068.1M1874.8 1068.1H1888.2"/>
<path class="eb" d="M1907.7 1093.8H1921.1M1914.4 1093.8V1096.8M1907.7 1096.8H1921.1"/>
<path class="eb" d="M1940.6 1082.8H1954M1947.3 1082.8V1090M1940.6 1090H1954"/>
<g stroke-width="2.4">
<path class="ax" d="M1119 749.5H1125.9V1100.7"/>
<path class="ax" d="M1119 1099.5H1975"/>
<path class="ax" d="M1119 1028.5H1125.9M1119 958.3H1125.9M1119 887.8H1125.9M1119 817.8H1125.9"/>
</g>
<text class="tk" x="1103.8" y="1105.7">0</text>
<text class="tk" x="1103.8" y="1034.7">5</text>
<text class="tk" x="1103.8" y="964.5">10</text>
<text class="tk" x="1103.8" y="894">15</text>
<text class="tk" x="1103.8" y="824">20</text>
<text class="tk" x="1103.8" y="755.7">25</text>
<text class="xl" x="1187.2" y="1137.6">0</text>
<text class="xl" x="1308.4" y="1137.6">1</text>
<text class="xl" x="1429.6" y="1137.6">6</text>
<text class="xl" x="1550.8" y="1137.6">12</text>
<text class="xl" x="1672" y="1137.6">24</text>
<text class="xl" x="1793.2" y="1137.6">48</text>
<text class="xl" x="1914.4" y="1137.6">96</text>
<text class="lt" x="1153.9" y="1060.8">a</text>
<text class="lt" x="1186.6" y="1065.9">a</text>
<text class="lt" x="1220.8" y="1065.9">a</text>
<text class="lt" x="1276.2" y="1065.9">a</text>
<text class="lt" x="1308.8" y="1083.2">a</text>
<text class="lt" x="1343.1" y="965.6">b</text>
<text class="lt" x="1393.8" y="998.5">a</text>
<text class="lt" x="1427.2" y="1083.2">a</text>
<text class="lt" x="1460.9" y="780.3">b</text>
<text class="lt" x="1519" y="957.3">b</text>
<text class="lt" x="1548.3" y="1083.2">a</text>
<text class="lt" x="1581.7" y="1083.2">a</text>
<text class="lt" x="1631.9" y="1066.7">a</text>
<text class="lt" x="1667.4" y="1049.2">a</text>
<text class="lt" x="1702.9" y="1066.7">a</text>
<text class="lt" x="1762.6" y="1066.7">a</text>
<text class="lt" x="1796.6" y="1032.5">b</text>
<text class="lt" x="1825.7" y="1067.7">a</text>
<text class="lt" x="1884.1" y="1032.5">b</text>
<text class="lt" x="1913.7" y="1083.2">a</text>
<text class="lt" x="1949.2" y="1066.7">a</text>
<text class="tt" transform="translate(1836.6 780.1) scale(1.008 1.085)">F. <tspan font-style="italic">On</tspan>-Hep1</text>
</g>
<g id="panel-G">
<rect class="bk" x="132.89" y="1488.4" width="32.9" height="4.2"/>
<rect class="gf" x="166.19" y="1488.4" width="32.5" height="4.2"/>
<rect class="wh" x="199.09" y="1488.4" width="32.5" height="4.2"/>
<rect class="bk" x="254.38" y="1488.4" width="32.9" height="4.2"/>
<rect class="gf" x="287.68" y="1469" width="32.5" height="23.6"/>
<rect class="wh" x="320.58" y="1398.3" width="32.5" height="94.3"/>
<rect class="bk" x="375.86" y="1488.4" width="32.9" height="4.2"/>
<rect class="gf" x="409.16" y="1481.5" width="32.5" height="11.1"/>
<rect class="wh" x="442.06" y="1445" width="32.5" height="47.6"/>
<rect class="bk" x="497.35" y="1471.5" width="32.9" height="21.1"/>
<rect class="gf" x="530.65" y="1477.7" width="32.5" height="14.9"/>
<rect class="wh" x="563.55" y="1330.7" width="32.5" height="161.9"/>
<rect class="bk" x="618.84" y="1481" width="32.9" height="11.6"/>
<rect class="gf" x="652.14" y="1420.1" width="32.5" height="72.5"/>
<rect class="wh" x="685.04" y="1469" width="32.5" height="23.6"/>
<rect class="bk" x="740.32" y="1266.6" width="32.9" height="226"/>
<rect class="gf" x="773.62" y="1424.8" width="32.5" height="67.8"/>
<rect class="wh" x="806.52" y="1354.8" width="32.5" height="137.8"/>
<rect class="bk" x="861.81" y="1320.5" width="32.9" height="172.1"/>
<rect class="gf" x="895.11" y="1483.5" width="32.5" height="9.1"/>
<rect class="wh" x="928.01" y="1486.9" width="32.5" height="5.7"/>
<path class="eb" d="M142.64 1484.7H156.04M149.34 1484.7V1491.4M142.64 1491.4H156.04"/>
<path class="eb" d="M175.54 1484.7H188.94M182.24 1484.7V1491.4M175.54 1491.4H188.94"/>
<path class="eb" d="M208.44 1484.7H221.84M215.14 1484.7V1491.4M208.44 1491.4H221.84"/>
<path class="eb" d="M264.13 1484.7H277.53M270.83 1484.7V1491.4M264.13 1491.4H277.53"/>
<path class="eb" d="M297.03 1458.4H310.43M303.73 1458.4V1480.2M297.03 1480.2H310.43"/>
<path class="eb" d="M329.93 1369.7H343.33M336.63 1369.7V1425.6M329.93 1425.6H343.33"/>
<path class="eb" d="M385.61 1484.7H399.01M392.31 1484.7V1491.4M385.61 1491.4H399.01"/>
<path class="eb" d="M418.51 1477.7H431.91M425.21 1477.7V1483.2M418.51 1483.2H431.91"/>
<path class="eb" d="M451.41 1433.5H464.81M458.11 1433.5V1454.9M451.41 1454.9H464.81"/>
<path class="eb" d="M507.1 1458.4H520.5M513.8 1458.4V1482.7M507.1 1482.7H520.5"/>
<path class="eb" d="M540 1473.3H553.4M546.7 1473.3V1481.5M540 1481.5H553.4"/>
<path class="eb" d="M572.9 1264.1H586.3M579.6 1264.1V1398.3M572.9 1398.3H586.3"/>
<path class="eb" d="M628.59 1479.7H641.99M635.29 1479.7V1481.7M628.59 1481.7H641.99"/>
<path class="eb" d="M661.49 1394.5H674.89M668.19 1394.5V1445.9M661.49 1445.9H674.89"/>
<path class="eb" d="M694.39 1455.4H707.79M701.09 1455.4V1484.7M694.39 1484.7H707.79"/>
<path class="eb" d="M750.07 1195.1H763.47M756.77 1195.1V1336.2M750.07 1336.2H763.47"/>
<path class="eb" d="M782.97 1407H796.37M789.67 1407V1445M782.97 1445H796.37"/>
<path class="eb" d="M815.87 1294.7H829.27M822.57 1294.7V1412.4M815.87 1412.4H829.27"/>
<path class="eb" d="M871.56 1284H884.96M878.26 1284V1354.3M871.56 1354.3H884.96"/>
<path class="eb" d="M904.46 1477.2H917.86M911.16 1477.2V1488.9M904.46 1488.9H917.86"/>
<path class="eb" d="M937.36 1483.2H950.76M944.06 1483.2V1489.4M937.36 1489.4H950.76"/>
<g stroke-width="2.4">
<path class="ax" d="M112.9 1151.3H119.6V1493.8"/>
<path class="ax" d="M112.9 1492.6H971"/>
<path class="ax" d="M112.9 1450.2H119.6M112.9 1408H119.6M112.9 1363.4H119.6M112.9 1321H119.6M112.9 1278.1H119.6M112.9 1235.2H119.6M112.9 1192.8H119.6"/>
</g>
<text class="tk" x="98.9" y="1498.8">0</text>
<text class="tk" x="98.9" y="1456.4">10</text>
<text class="tk" x="98.9" y="1414.2">20</text>
<text class="tk" x="98.9" y="1369.6">30</text>
<text class="tk" x="98.9" y="1327.2">40</text>
<text class="tk" x="98.9" y="1284.3">50</text>
<text class="tk" x="98.9" y="1241.4">60</text>
<text class="tk" x="98.9" y="1199">70</text>
<text class="tk" x="98.9" y="1157.5">80</text>
<text class="xl" x="181.34" y="1531">0</text>
<text class="xl" x="302.83" y="1531">1</text>
<text class="xl" x="424.31" y="1531">6</text>
<text class="xl" x="545.8" y="1531">12</text>
<text class="xl" x="667.29" y="1531">24</text>
<text class="xl" x="788.77" y="1531">48</text>
<text class="xl" x="910.26" y="1531">96</text>
<text class="lt" x="153.1" y="1476.2">a</text>
<text class="lt" x="188.7" y="1476.2">a</text>
<text class="lt" x="219.7" y="1476.2">a</text>
<text class="lt" x="272.4" y="1476.2">a</text>
<text class="lt" x="302.2" y="1442.9">a</text>
<text class="lt" x="335.7" y="1358.4">b</text>
<text class="lt" x="386.1" y="1476.2">a</text>
<text class="lt" x="419.7" y="1458.3">a</text>
<text class="lt" x="456.9" y="1426">b</text>
<text class="lt" x="512.6" y="1453.3">a</text>
<text class="lt" x="548.4" y="1469.4">a</text>
<text class="lt" x="578.9" y="1251.4">b</text>
<text class="lt" x="637.5" y="1476.2">a</text>
<text class="lt" x="671.5" y="1385.7">b</text>
<text class="lt" x="700.6" y="1452.8">a</text>
<text class="lt" x="755.5" y="1183.3">b</text>
<text class="lt" x="789" y="1392.4">a</text>
<text class="lt" x="825.5" y="1291.4">ab</text>
<text class="lt" x="878.9" y="1274">b</text>
<text class="lt" x="910.5" y="1469.4">a</text>
<text class="lt" x="941.8" y="1476.2">a</text>
<text class="tt" transform="translate(823.7 1181.1) scale(1.008 1.085)">G. <tspan font-style="italic">On</tspan>-Hep2</text>
</g>
<g id="panel-H">
<rect class="bk" x="1140.24" y="1483.3" width="32.9" height="13.6"/>
<rect class="gf" x="1173.54" y="1483.3" width="32.5" height="13.6"/>
<rect class="wh" x="1206.44" y="1483.3" width="32.5" height="13.6"/>
<rect class="bk" x="1261.23" y="1483.3" width="32.9" height="13.6"/>
<rect class="gf" x="1294.53" y="1495" width="32.5" height="1.9"/>
<rect class="wh" x="1327.43" y="1479.9" width="32.5" height="17"/>
<rect class="bk" x="1382.21" y="1264.3" width="32.9" height="232.6"/>
<rect class="gf" x="1415.51" y="1495.5" width="32.5" height="1.4"/>
<rect class="wh" x="1448.41" y="1488.4" width="32.5" height="8.5"/>
<rect class="bk" x="1503.2" y="1421.6" width="32.9" height="75.3"/>
<rect class="gf" x="1536.5" y="1494.7" width="32.5" height="2.2"/>
<rect class="wh" x="1569.4" y="1489" width="32.5" height="7.9"/>
<rect class="bk" x="1624.19" y="1482.2" width="32.9" height="14.7"/>
<rect class="gf" x="1657.49" y="1428.7" width="32.5" height="68.2"/>
<rect class="wh" x="1690.39" y="1492.7" width="32.5" height="4.2"/>
<rect class="bk" x="1745.17" y="1457.1" width="32.9" height="39.8"/>
<rect class="gf" x="1778.47" y="1423" width="32.5" height="73.9"/>
<rect class="wh" x="1811.37" y="1492.7" width="32.5" height="4.2"/>
<rect class="bk" x="1866.16" y="1482.2" width="32.9" height="14.7"/>
<rect class="gf" x="1899.46" y="1489" width="32.5" height="7.9"/>
<rect class="wh" x="1932.36" y="1492.7" width="32.5" height="4.2"/>
<path class="eb" d="M1149.99 1479.3H1163.39M1156.69 1479.3V1489M1149.99 1489H1163.39"/>
<path class="eb" d="M1182.89 1479.3H1196.29M1189.59 1479.3V1489M1182.89 1489H1196.29"/>
<path class="eb" d="M1215.79 1479.3H1229.19M1222.49 1479.3V1489M1215.79 1489H1229.19"/>
<path class="eb" d="M1270.98 1479.3H1284.38M1277.68 1479.3V1489M1270.98 1489H1284.38"/>
<path class="eb" d="M1336.78 1480.2H1350.18M1343.48 1480.2V1481.2M1336.78 1481.2H1350.18"/>
<path class="eb" d="M1391.96 1221.6H1405.36M1398.66 1221.6V1307M1391.96 1307H1405.36"/>
<path class="eb" d="M1457.76 1485H1471.16M1464.46 1485V1490.4M1457.76 1490.4H1471.16"/>
<path class="eb" d="M1512.95 1390.9H1526.35M1519.65 1390.9V1449.4M1512.95 1449.4H1526.35"/>
<path class="eb" d="M1578.75 1485H1592.15M1585.45 1485V1490.8M1578.75 1490.8H1592.15"/>
<path class="eb" d="M1633.94 1471.3H1647.34M1640.64 1471.3V1492.7M1633.94 1492.7H1647.34"/>
<path class="eb" d="M1666.84 1391.1H1680.24M1673.54 1391.1V1465.1M1666.84 1465.1H1680.24"/>
<path class="eb" d="M1699.74 1489H1713.14M1706.44 1489V1495.5M1699.74 1495.5H1713.14"/>
<path class="eb" d="M1754.92 1433.5H1768.32M1761.62 1433.5V1477.9M1754.92 1477.9H1768.32"/>
<path class="eb" d="M1787.82 1392.6H1801.22M1794.52 1392.6V1452M1787.82 1452H1801.22"/>
<path class="eb" d="M1820.72 1487H1834.12M1827.42 1487V1496.9"/>
<path class="eb" d="M1875.91 1474.8H1889.31M1882.61 1474.8V1491.2M1875.91 1491.2H1889.31"/>
<path class="eb" d="M1908.81 1485H1922.21M1915.51 1485V1494M1908.81 1494H1922.21"/>
<path class="eb" d="M1941.71 1487.8H1955.11M1948.41 1487.8V1496.9"/>
<g stroke-width="2.4">
<path class="ax" d="M1121.3 1167.6H1129.6V1498.1"/>
<path class="ax" d="M1121.3 1496.9H1976.8"/>
<path class="ax" d="M1121.3 1430.7H1129.6M1121.3 1365.3H1129.6M1121.3 1299H1129.6M1121.3 1233H1129.6"/>
</g>
<text class="tk" x="1106.5" y="1503.1">0</text>
<text class="tk" x="1106.5" y="1436.9">5</text>
<text class="tk" x="1106.5" y="1371.5">10</text>
<text class="tk" x="1106.5" y="1305.2">15</text>
<text class="tk" x="1106.5" y="1239.2">20</text>
<text class="tk" x="1106.5" y="1173.8">25</text>
<text class="xl" x="1188.99" y="1535.9">0</text>
<text class="xl" x="1309.98" y="1535.9">1</text>
<text class="xl" x="1430.96" y="1535.9">6</text>
<text class="xl" x="1551.95" y="1535.9">12</text>
<text class="xl" x="1672.94" y="1535.9">24</text>
<text class="xl" x="1793.92" y="1535.9">48</text>
<text class="xl" x="1914.91" y="1535.9">96</text>
<text class="lt" x="1158.1" y="1470.3">a</text>
<text class="lt" x="1193.7" y="1470.3">a</text>
<text class="lt" x="1225" y="1470.3">a</text>
<text class="lt" x="1275.6" y="1470.3">b</text>
<text class="lt" x="1308.9" y="1481.7">a</text>
<text class="lt" x="1342.4" y="1470.3">c</text>
<text class="lt" x="1397.6" y="1211.5">b</text>
<text class="lt" x="1426.9" y="1481.7">a</text>
<text class="lt" x="1462.4" y="1481.7">a</text>
<text class="lt" x="1515.2" y="1380.2">b</text>
<text class="lt" x="1548.6" y="1481.7">a</text>
<text class="lt" x="1584.1" y="1481.7">a</text>
<text class="lt" x="1638.7" y="1453.3">a</text>
<text class="lt" x="1679.4" y="1385.6">b</text>
<text class="lt" x="1699.9" y="1481.7">a</text>
<text class="lt" x="1763.3" y="1420.5">b</text>
<text class="lt" x="1796.8" y="1386.4">c</text>
<text class="lt" x="1829.6" y="1481.7">a</text>
<text class="lt" x="1884.2" y="1469.5">b</text>
<text class="lt" x="1916.3" y="1469.5">ab</text>
<text class="lt" x="1947.3" y="1481.7">a</text>
<text class="tt" transform="translate(1836.1 1191.4) scale(1.008 1.085)">H. <tspan font-style="italic">On</tspan>-Trans</text>
</g>
<g id="legend">
<rect x="207" y="30.5" width="21.5" height="21.5" fill="#000"/>
<text transform="translate(241.6 49.8) scale(1 1.05)" font-weight="bold" font-size="30">Control</text>
<rect x="382" y="31.5" width="21" height="21" fill="#000" opacity="0.22" filter="url(#sh)"/>
<rect class="gg" x="381.5" y="31" width="21.5" height="21"/>
<text transform="translate(418.6 49.8) scale(1 1.05)" font-weight="bold" font-size="30">10 μg</text>
<rect class="wh" x="525.3" y="31" width="22.5" height="21"/>
<text transform="translate(560.6 49.8) scale(1 1.05)" font-weight="bold" font-size="30">100 μg</text>
</g>
<text transform="translate(306.8 1570) scale(1 1.05)" font-weight="bold" font-size="35.7">Hours after injection</text>
<text transform="translate(1320.6 1571.3) scale(1 1.05)" font-weight="bold" font-size="35.7">Hours after injection</text>
<text transform="translate(45.6 902) rotate(-90) scale(1 1.05)" font-weight="bold" font-size="41.2">Relative expression ratio</text>
</g>
</svg>
</body></html>
